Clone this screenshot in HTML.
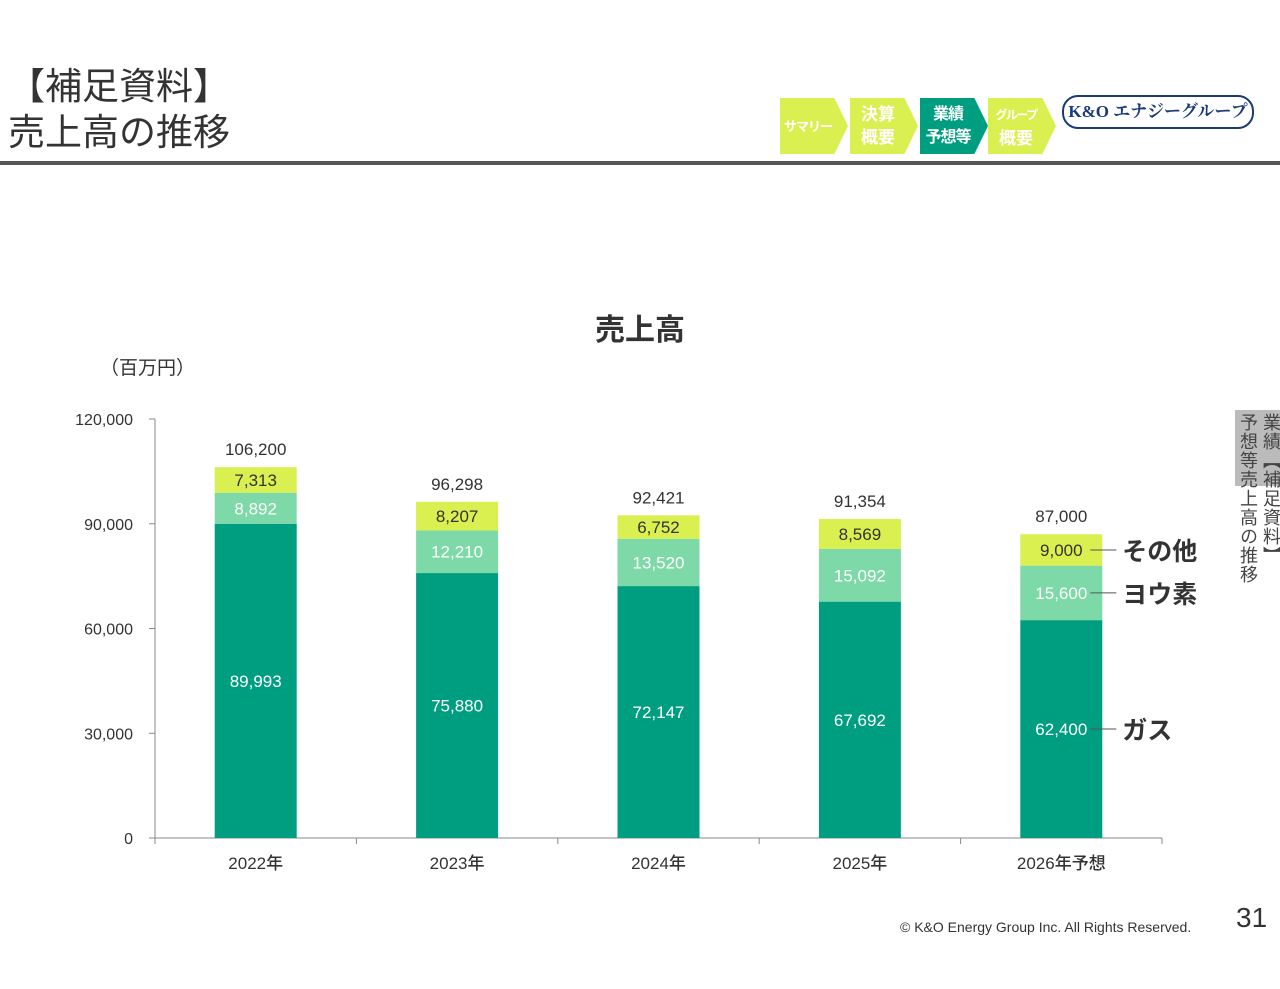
<!DOCTYPE html>
<html><head><meta charset="utf-8"><style>
body{margin:0;width:1280px;height:989px;background:#fff;position:relative;overflow:hidden;font-family:"Liberation Sans","Noto Sans CJK JP",sans-serif;color:#333}
.abs{position:absolute}
.nav{position:absolute;top:98px;height:56px;width:68px;clip-path:polygon(0 0,80% 0,100% 50%,80% 100%,0 100%);color:#fff;font-weight:bold;font-size:17px;line-height:23px;text-align:center;display:flex;align-items:center;justify-content:center;padding-right:12px;box-sizing:border-box;white-space:nowrap}
</style></head><body>
<div class="abs" style="left:8px;top:64px;font-size:37px;line-height:46px;color:#333">【補足資料】<br>売上高の推移</div>
<div class="nav" style="left:780px;background:#d9f050;font-size:13px;letter-spacing:-1px">サマリー</div>
<div class="nav" style="left:850px;background:#d9f050">決算<br>概要</div>
<div class="nav" style="left:920px;background:#009e80;font-size:16px;letter-spacing:-1px">業績<br>予想等</div>
<div class="nav" style="left:988px;background:#d9f050"><span><span style="font-size:12px;letter-spacing:-1.5px">グループ</span><br>概要</span></div>
<div class="abs" style="left:1062px;top:95px;width:188px;height:30px;border:2px solid #1a3a7a;border-radius:16px;color:#1a3a7a;font-weight:bold;font-size:17px;line-height:30px;text-align:center;font-family:'Liberation Serif','Noto Serif CJK SC',serif">K&amp;O エナジーグループ</div>
<div class="abs" style="left:0;top:161px;width:1280px;height:4px;background:#555"></div>
<div class="abs" style="left:1235px;top:410px;width:45px;height:76px;background:#bbb"></div>
<div class="abs" style="left:1236px;top:413px;writing-mode:vertical-rl;font-size:18px;line-height:23px;color:#444;letter-spacing:1px">業績【補足資料】<br>予想等売上高の推移</div>
<div class="abs" style="left:900px;top:919px;font-size:14px;color:#333">© K&amp;O Energy Group Inc. All Rights Reserved.</div>
<div class="abs" style="left:1236px;top:902px;font-size:28px;color:#333">31</div>
<svg id="chart" class="abs" style="left:0;top:0" width="1280" height="989"></svg>
<script>
const categories=["2022年","2023年","2024年","2025年","2026年予想"];
const gas=[89993,75880,72147,67692,62400];
const iodine=[8892,12210,13520,15092,15600];
const other=[7313,8207,6752,8569,9000];
const totals=[106200,96298,92421,91354,87000];
const yTicks=[0,30000,60000,90000,120000];
const yLabels=["0","30,000","60,000","90,000","120,000"];
const svg=document.getElementById('chart');const NS='http://www.w3.org/2000/svg';
const y=v=>838-v*419/120000;const x0=155,step=201.4;const cx=i=>x0+step*(i+0.5);const bw=82;
function el(t,a,txt){const e=document.createElementNS(NS,t);for(const k in a)e.setAttribute(k,a[k]);if(txt!=null)e.textContent=txt;svg.appendChild(e);return e;}
const fmt=v=>v.toLocaleString('en-US');
let e=el('text',{x:640,y:340,'font-size':30,'text-anchor':'middle',fill:'#333','font-weight':'bold'},'売上高');

e=el('text',{x:100,y:374,'font-size':19,fill:'#333'},'（百万円）');

e=el('line',{x1:155,y1:419,x2:155,y2:838,stroke:'#888'});

e=el('line',{x1:155,y1:838,x2:1162,y2:838,stroke:'#888'});

yTicks.forEach((t,i)=>{
 e=el('line',{x1:149,y1:y(t),x2:155,y2:y(t),stroke:'#888'});
 
 e=el('text',{x:133,y:y(t)+6,'font-size':16,'text-anchor':'end',fill:'#333'},yLabels[i]);
 
});
for(let i=0;i<=categories.length;i++){e=el('line',{x1:x0+step*i,y1:838,x2:x0+step*i,y2:844,stroke:'#888'});
 }
categories.forEach((c,i)=>{
 const X=cx(i)-bw/2;
 const segs=[[0,gas[i],'#009e80','#fff','gas'],[gas[i],gas[i]+iodine[i],'#7dd9a8','#fff','iodine'],[gas[i]+iodine[i],gas[i]+iodine[i]+other[i],'#d9f050','#333','other']];
 segs.forEach((s,j)=>{
  e=el('rect',{x:X,y:y(s[1]),width:bw,height:y(s[0])-y(s[1]),fill:s[2]});
  
  const v=s[1]-s[0];const my=(y(s[0])+y(s[1]))/2;
  e=el('text',{x:cx(i),y:my+6,'font-size':17,'text-anchor':'middle',fill:s[3],'font-weight':'500'},fmt(v));
  
 });
 e=el('text',{x:cx(i),y:y(totals[i])-12,'font-size':17,'text-anchor':'middle',fill:'#333'},fmt(totals[i]));
 
 e=el('text',{x:cx(i),y:869,'font-size':17,'text-anchor':'middle',fill:'#333','font-weight':'500'},c);
 
});
const L=categories.length-1;const lx=cx(L)+bw/2;
[['その他',gas[L]+iodine[L]+other[L]/2,'legend-other'],['ヨウ素',gas[L]+iodine[L]/2,'legend-iodine'],['ガス',gas[L]/2,'legend-gas']].forEach(s=>{
 const yy=y(s[1]);
 e=el('line',{x1:lx-12,y1:yy,x2:lx+14,y2:yy,stroke:'#555'});
 
 e=el('text',{x:lx+20,y:yy+10,'font-size':25,fill:'#333','font-weight':'bold'},s[0]);
 
});
</script>
</body></html>
